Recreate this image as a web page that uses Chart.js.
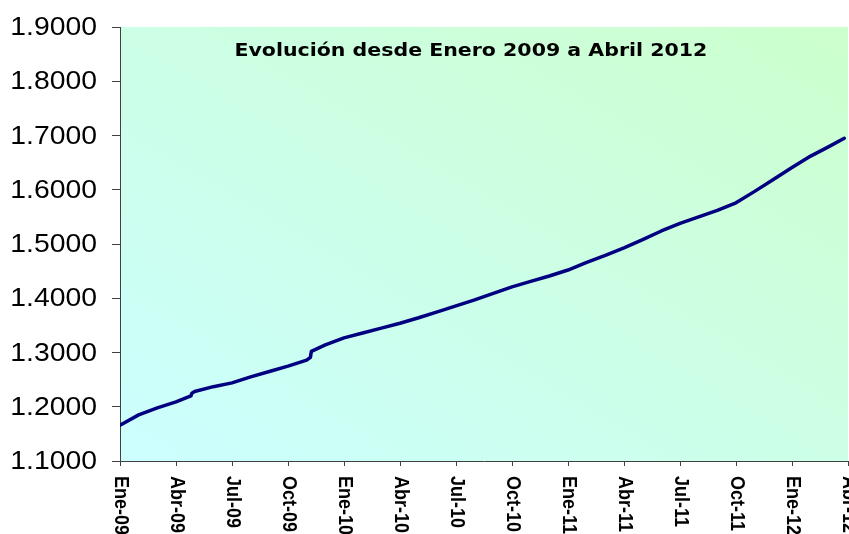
<!DOCTYPE html>
<html>
<head>
<meta charset="utf-8">
<script src="https://cdn.jsdelivr.net/npm/chart.js@4/dist/chart.umd.min.js"></script>
<style>
  html, body { margin: 0; padding: 0; background: #ffffff; }
  #wrap { width: 849px; height: 534px; position: relative; }
</style>
</head>
<body>
<div id="wrap"><canvas id="evolChart"></canvas></div>
<script>
// months since Jan 2009 (two close points where the curve jumps)
const months = [0, 1, 2, 3, 3.8, 3.85, 4, 5, 6, 7, 8, 9, 10, 10.2, 10.25, 11, 12, 13, 14, 15, 16, 17, 18, 19, 20,
  21, 22, 23, 24, 25, 26, 27, 28, 29, 30, 31, 32, 33, 34, 35, 36, 37, 38, 38.8];
const values = [1.166, 1.185, 1.198, 1.209, 1.220, 1.225, 1.228, 1.237, 1.244, 1.255, 1.265, 1.275, 1.286, 1.291, 1.302, 1.314, 1.327, 1.336, 1.345, 1.354,
  1.364, 1.375, 1.386, 1.397, 1.409, 1.421, 1.431, 1.441, 1.452, 1.466, 1.479, 1.493, 1.508, 1.524, 1.538, 1.550, 1.562, 1.576, 1.597, 1.619,
  1.641, 1.662, 1.680, 1.695];
const tickLabels = ["Ene-09", "Abr-09", "Jul-09", "Oct-09", "Ene-10", "Abr-10", "Jul-10", "Oct-10",
  "Ene-11", "Abr-11", "Jul-11", "Oct-11", "Ene-12", "Abr-12"];
const chartTitle = "Evolución desde Enero 2009 a Abril 2012";

const axisColor = "#404040";

// gradient fill of the plot area: cyan bottom-left -> green top-right
const plotBackground = {
  id: "plotBackground",
  beforeDraw(chart) {
    const { ctx, chartArea: a } = chart;
    const w = a.right - a.left, h = a.bottom - a.top;
    const c = 2 / (1 / (w * w) + 1 / (h * h));
    const g = ctx.createLinearGradient(a.left, a.bottom, a.left + c / w, a.bottom - c / h);
    g.addColorStop(0, "#ccffff");
    g.addColorStop(1, "#ccffcc");
    ctx.save();
    ctx.fillStyle = g;
    ctx.fillRect(a.left, a.top, w, h);
    ctx.restore();
  }
};

// title inside the plot, y labels and x labels rotated clockwise
const extraText = {
  id: "extraText",
  afterDraw(chart) {
    const { ctx, chartArea: a } = chart;
    const xs = chart.scales.x, ys = chart.scales.y;
    ctx.save();
    ctx.fillStyle = "#000000";
    ctx.font = "bold 18px 'DejaVu Sans'";
    ctx.textAlign = "center";
    ctx.textBaseline = "alphabetic";
    ctx.translate(a.left + (a.right - a.left) * 0.482, a.top + 29);
    ctx.scale(1.14, 1);
    ctx.fillText(chartTitle, 0, 0);
    ctx.restore();

    ctx.save();
    ctx.fillStyle = "#000000";
    ctx.font = "26px 'Liberation Sans'";
    ctx.textAlign = "right";
    ctx.textBaseline = "middle";
    ys.ticks.forEach(t => {
      ctx.save();
      ctx.translate(a.left - 23, ys.getPixelForValue(t.value) + 1);
      ctx.scale(1.09, 1);
      ctx.fillText(t.value.toFixed(4), 0, 0);
      ctx.restore();
    });
    ctx.restore();

    ctx.save();
    ctx.fillStyle = "#000000";
    ctx.font = "bold 18px 'Liberation Sans'";
    ctx.textAlign = "left";
    ctx.textBaseline = "middle";
    tickLabels.forEach((lbl, i) => {
      const x = xs.getPixelForValue(i * 3);
      ctx.save();
      ctx.translate(x, a.bottom + 15);
      ctx.rotate(Math.PI / 2);
      ctx.scale(1, 1.1);
      ctx.fillText(lbl, 0, 0);
      ctx.restore();
    });
    ctx.restore();
  }
};

new Chart(document.getElementById("evolChart"), {
  type: "line",
  data: {
    datasets: [{
      data: months.map((m, i) => ({ x: m, y: values[i] })),
      borderColor: "#000080",
      borderWidth: 3.5,
      borderJoinStyle: "round",
      borderCapStyle: "round",
      pointRadius: 0,
      tension: 0,
      fill: false
    }]
  },
  options: {
    responsive: true,
    maintainAspectRatio: false,
    animation: false,
    layout: { padding: { top: 27, right: 1, left: 0, bottom: 0 } },
    plugins: {
      legend: { display: false },
      title: { display: false },
      tooltip: { enabled: false }
    },
    scales: {
      x: {
        type: "linear",
        min: 0,
        max: 39,
        afterFit(scale) { scale.height = 73; },
        afterBuildTicks(scale) {
          scale.ticks = tickLabels.map((_, i) => ({ value: i * 3 }));
        },
        ticks: { display: false },
        grid: { display: true, drawOnChartArea: false, drawTicks: true, tickLength: 5, color: axisColor },
        border: { display: true, color: axisColor, width: 1 }
      },
      y: {
        min: 1.1,
        max: 1.9,
        afterFit(scale) { scale.width = 120; },
        ticks: { display: false, stepSize: 0.1 },
        grid: { display: true, drawOnChartArea: false, drawTicks: true, tickLength: 8, color: axisColor },
        border: { display: true, color: axisColor, width: 1 }
      }
    }
  },
  plugins: [plotBackground, extraText]
});
</script>
</body>
</html>
